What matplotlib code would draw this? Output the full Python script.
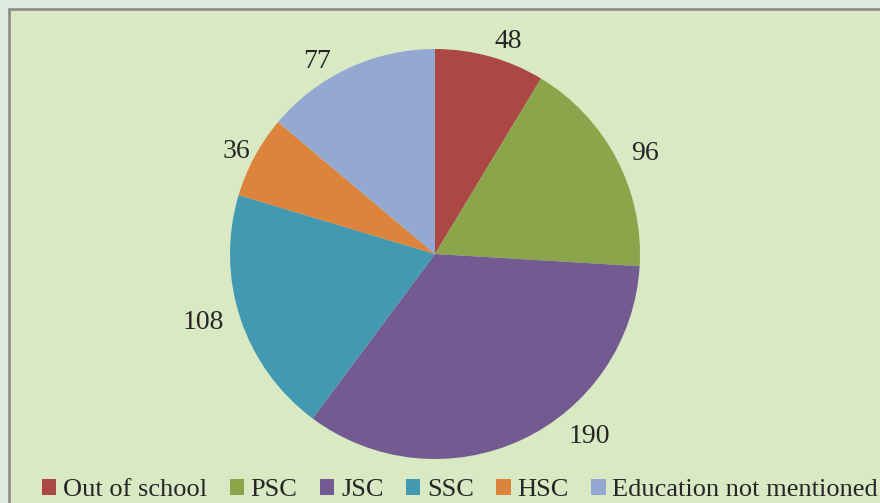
import numpy as np
import matplotlib
matplotlib.use("Agg")
import matplotlib.pyplot as plt
from matplotlib.patches import Rectangle

# data
categories = ["Out of school", "PSC", "JSC", "SSC", "HSC", "Education not mentioned"]
values = [48, 96, 190, 108, 36, 77]
colors = ["#ab4744", "#8ba54b", "#735a91", "#4299b1", "#dd843c", "#94a9d1"]

# label placement tweaks (degrees added to the wedge mid angle)
angle_nudge = [-3, -1, 16, -3, 0, 6]
label_dist = [1.12, 1.145, 1.145, 1.17, 1.10, 1.12]

plt.rcParams["font.family"] = ["Liberation Serif", "DejaVu Serif"]

W, H = 880, 503
fig = plt.figure(figsize=(W / 100, H / 100), dpi=100)
fig.patch.set_facecolor("#e0ebe4")

# chart box (behind everything)
box = Rectangle((9 / W, -0.1), 1.1, (H - 9) / H + 0.1, transform=fig.transFigure,
                facecolor="#d8e9c3", edgecolor="#8f8f8f", linewidth=2, zorder=-10)
fig.patches.append(box)

cx, cy, r = 435, 254, 205
ax = fig.add_axes([(cx - r) / W, (H - cy - r) / H, 2 * r / W, 2 * r / H])
ax.set_zorder(5)
ax.set_facecolor("none")
wedges, _ = ax.pie(values, colors=colors, startangle=90, counterclock=False, radius=1,
                   wedgeprops=dict(linewidth=0))
ax.set_xlim(-1, 1)
ax.set_ylim(-1, 1)
ax.axis("off")

for i, w in enumerate(wedges):
    mid = np.deg2rad((w.theta1 + w.theta2) / 2 + angle_nudge[i])
    d = label_dist[i]
    ax.annotate(str(values[i]), (d * np.cos(mid), d * np.sin(mid)), xytext=(0, -3.5),
                textcoords="offset points", ha="center", va="center",
                fontsize=20, color="#262626", annotation_clip=False)

leg = fig.legend(wedges, categories, loc="center", bbox_to_anchor=(460 / W, 1 - 490 / H),
                 ncol=6, frameon=False, fontsize=19, handlelength=0.55, handleheight=0.55,
                 handletextpad=0.25, columnspacing=0.85, borderaxespad=0, labelcolor="#262626")
leg.set_zorder(6)

fig.savefig("out.png", dpi=100, facecolor=fig.get_facecolor())
